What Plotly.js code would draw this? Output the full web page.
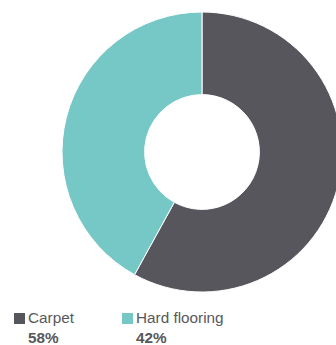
<!DOCTYPE html>
<html>
<head>
<meta charset="utf-8">
<script src="https://cdn.plot.ly/plotly-3.0.1.min.js"></script>
<style>
html,body{margin:0;padding:0;overflow:hidden;background:#fff;}
#chart{width:348px;height:345px;}
</style>
</head>
<body>
<div id="chart"></div>
<script>
// Data
const categories = ['Carpet', 'Hard flooring'];
const shares = [58, 42];
const colors = ['#57565c', '#76c8c7'];

// Layout helpers (pixel -> paper)
const W = 348, H = 345;
const px = v => v / W;
const py = v => 1 - v / H;

const legendX = [14, 122];

const trace = {
  type: 'pie',
  labels: categories,
  values: shares,
  sort: false,
  direction: 'clockwise',
  rotation: 0,
  hole: 0.41,
  textinfo: 'none',
  hoverinfo: 'label+percent',
  showlegend: false,
  marker: {colors: colors, line: {color: '#ffffff', width: 1}},
  domain: {x: [px(62), px(342)], y: [py(292), py(12)]}
};

const shapes = categories.map((c, i) => ({
  type: 'rect', xref: 'paper', yref: 'paper',
  x0: px(legendX[i]), x1: px(legendX[i] + 11),
  y0: py(313), y1: py(324),
  fillcolor: colors[i], line: {width: 0}
}));

const annotations = categories.map((c, i) => ({
  xref: 'paper', yref: 'paper',
  x: px(legendX[i] + 12), y: py(307),
  xanchor: 'left', yanchor: 'top', align: 'left',
  showarrow: false,
  text: c + '<br><b>' + shares[i] + '%</b>',
  font: {family: 'Liberation Sans, Arial, sans-serif', size: 15.3, color: '#58585a'}
}));

const layout = {
  width: W, height: H,
  margin: {l: 0, r: 0, t: 0, b: 0},
  paper_bgcolor: '#ffffff',
  plot_bgcolor: '#ffffff',
  shapes: shapes,
  annotations: annotations,
  showlegend: false
};

Plotly.newPlot('chart', [trace], layout, {displayModeBar: false, staticPlot: true});
</script>
</body>
</html>
